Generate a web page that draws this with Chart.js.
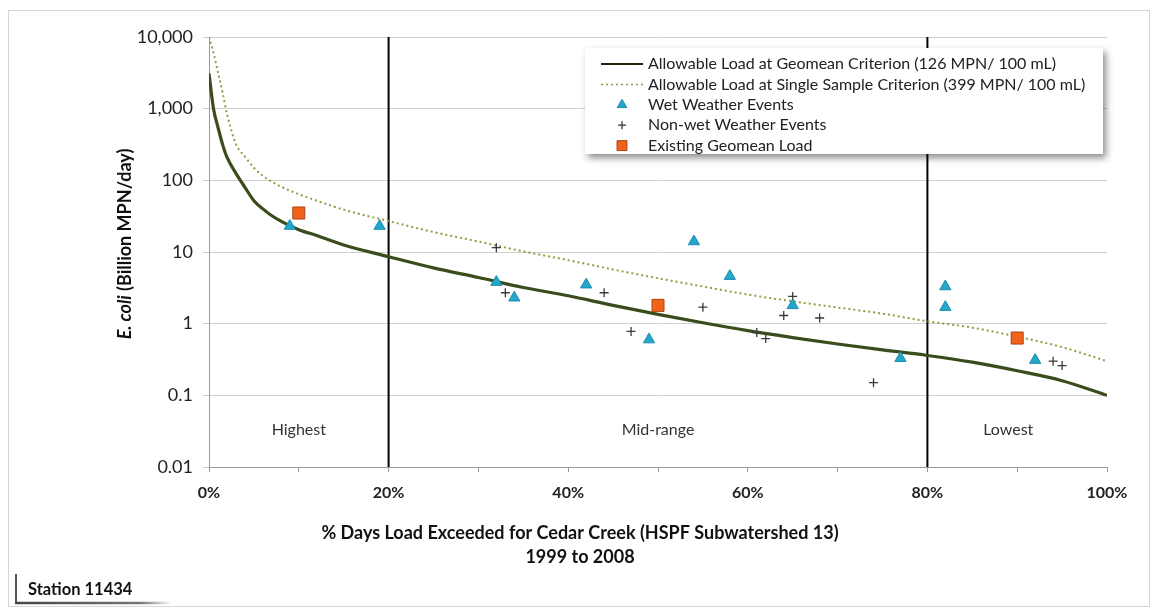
<!DOCTYPE html>
<html>
<head>
<meta charset="utf-8">
<script src="https://cdn.jsdelivr.net/npm/chart.js@4.4.1/dist/chart.umd.min.js"></script>
<style>
  html, body { margin: 0; padding: 0; background: #fff; }
</style>
</head>
<body>
<canvas id="loadChart" width="1154" height="609"></canvas>
<script>
// load duration curves (% of days load exceeded vs. allowable load)
const exceedPct = [0, 0.5, 1, 1.5, 2, 3, 4, 5, 6, 7, 8, 10, 12, 15, 20, 25, 30, 35, 40, 45, 50, 55, 60, 65, 70, 75, 80, 85, 90, 95, 100];
const geomeanLoad = [3100, 1000, 550, 320, 210, 125, 80, 52, 40, 32, 27, 20.5, 17, 12.5, 8.6, 6.0, 4.4, 3.2, 2.45, 1.8, 1.35, 1.03, 0.80, 0.64, 0.52, 0.43, 0.36, 0.29, 0.22, 0.16, 0.10];
const singleSampleLoad = [10000, 6000, 3200, 1700, 850, 320, 215, 150, 115, 96, 82, 64, 52, 39, 27, 19, 14, 10.2, 7.7, 5.7, 4.3, 3.3, 2.55, 2.05, 1.68, 1.38, 1.08, 0.88, 0.66, 0.47, 0.30];

// monitoring samples
const wetPct = [9, 19, 32, 34, 42, 49, 54, 58, 65, 77, 82, 82, 92];
const wetLoad = [23, 23, 3.8, 2.3, 3.5, 0.6, 14, 4.6, 1.8, 0.33, 3.3, 1.7, 0.31];
const dryPct = [32, 33, 44, 47, 55, 61, 62, 64, 65, 68, 74, 94, 95];
const dryLoad = [11.5, 2.7, 2.7, 0.78, 1.7, 0.75, 0.62, 1.3, 2.4, 1.2, 0.15, 0.30, 0.26];
const geoPct = [10, 50, 90];
const geoLoad = [35, 1.8, 0.63];

// flow zones
const zoneBounds = [20, 80];
const zoneNames = ['Highest', 'Mid-range', 'Lowest'];
const zoneCenters = [10, 50, 89];

// axis ticks
const xTicks = [0, 10, 20, 30, 40, 50, 60, 70, 80, 90, 100];
const yTicks = [0.01, 0.1, 1, 10, 100, 1000, 10000];
const yTickLabels = ['0.01', '0.1', '1', '10', '100', '1,000', '10,000'];

const pts = (xs, ys) => xs.map((x, i) => ({ x: x, y: ys[i] }));
const FONT = 'Lato, "Open Sans", sans-serif';

// frame, flow zone labels, axis titles, legend and station tag
const decor = {
  id: 'decor',
  beforeDraw(chart) {
    const c = chart.ctx;
    c.save();
    c.fillStyle = '#fff';
    c.fillRect(0, 0, chart.width, chart.height);
    c.strokeStyle = '#d6d6d6';
    c.lineWidth = 1;
    c.strokeRect(8.5, 10.5, 1141, 596);
    c.restore();
  },
  afterDraw(chart) {
    const c = chart.ctx;
    const xs = chart.scales.x, ys = chart.scales.y;
    c.save();

    // zone labels
    c.fillStyle = '#333';
    c.font = '16px ' + FONT;
    c.textAlign = 'center';
    c.textBaseline = 'middle';
    zoneNames.forEach((name, i) => {
      c.fillText(name, xs.getPixelForValue(zoneCenters[i]), ys.getPixelForValue(0.033));
    });

    // x title
    c.fillStyle = '#111';
    c.font = 'bold 18px ' + FONT;
    c.fillText('% Days Load Exceeded for Cedar Creek (HSPF Subwatershed 13)', 580, 533);
    c.fillText('1999 to 2008', 580, 557);

    // y title, italic species name
    c.save();
    c.translate(125, 244);
    c.rotate(-Math.PI / 2);
    const p1 = 'E. coli', p2 = ' (Billion MPN/day)';
    c.font = 'italic bold 18px ' + FONT;
    const w1 = c.measureText(p1).width;
    c.font = 'bold 18px ' + FONT;
    const w2 = c.measureText(p2).width;
    c.textAlign = 'left';
    c.font = 'italic bold 18px ' + FONT;
    c.fillText(p1, -(w1 + w2) / 2, 0);
    c.font = 'bold 18px ' + FONT;
    c.fillText(p2, -(w1 + w2) / 2 + w1, 0);
    c.restore();

    // legend box
    const lx = 585, ly = 48, lw = 518, lh = 106;
    c.save();
    c.shadowColor = 'rgba(0,0,0,0.45)';
    c.shadowBlur = 7;
    c.shadowOffsetX = 3;
    c.shadowOffsetY = 4;
    c.fillStyle = '#fff';
    c.fillRect(lx, ly, lw, lh);
    c.restore();

    const ds = chart.data.datasets;
    const order = [3, 4, 0, 1, 2];
    c.textAlign = 'left';
    c.textBaseline = 'middle';
    order.forEach((di, row) => {
      const d = ds[di];
      const y = 64 + row * 20.4;
      c.save();
      if (d.showLine) {
        c.strokeStyle = di === 3 ? '#1e2810' : d.borderColor;
        c.lineWidth = di === 3 ? 2 : 1.5;
        c.setLineDash(d.borderDash || []);
        c.beginPath();
        c.moveTo(601, y);
        c.lineTo(643, y);
        c.stroke();
      } else {
        c.fillStyle = d.backgroundColor || d.borderColor;
        c.strokeStyle = d.borderColor;
        c.lineWidth = d.borderWidth;
        Chart.helpers.drawPoint(c, {
          pointStyle: d.pointStyle,
          radius: d.pointStyle === 'rect' ? 7 : d.pointStyle === 'cross' ? 4 : 5.5,
          rotation: 0,
          borderWidth: d.borderWidth
        }, 622, y);
      }
      c.restore();
      c.fillStyle = '#222';
      c.font = '16px ' + FONT;
      c.fillText(d.label, 648, y);
    });

    // station tag
    c.strokeStyle = '#555';
    c.lineWidth = 2;
    c.beginPath();
    c.moveTo(16, 574);
    c.lineTo(16, 603);
    c.stroke();
    const g = c.createLinearGradient(15, 0, 172, 0);
    g.addColorStop(0, '#444');
    g.addColorStop(0.8, '#777');
    g.addColorStop(1, 'rgba(120,120,120,0)');
    c.strokeStyle = g;
    c.lineWidth = 2.5;
    c.beginPath();
    c.moveTo(15, 603);
    c.lineTo(172, 603);
    c.stroke();
    c.fillStyle = '#111';
    c.font = 'bold 16.5px ' + FONT;
    c.fillText('Station 11434', 28, 590);

    c.restore();
  }
};

const ctx = document.getElementById('loadChart').getContext('2d');
const chart = new Chart(ctx, {
  type: 'scatter',
  data: {
    datasets: [
      { label: 'Wet Weather Events', data: pts(wetPct, wetLoad), pointStyle: 'triangle', pointRadius: 6.5,
        backgroundColor: '#24a7cb', borderColor: '#1a8db0', borderWidth: 1, order: 1 },
      { label: 'Non-wet Weather Events', data: pts(dryPct, dryLoad), pointStyle: 'cross', pointRadius: 4.5,
        borderColor: '#3a3a3a', borderWidth: 1.3, order: 1 },
      { label: 'Existing Geomean Load', data: pts(geoPct, geoLoad), pointStyle: 'rect', pointRadius: 8.5,
        backgroundColor: '#f0641a', borderColor: '#a84410', borderWidth: 1, order: 0 },
      { label: 'Allowable Load at Geomean Criterion (126 MPN/ 100 mL)', data: pts(exceedPct, geomeanLoad),
        showLine: true, borderColor: '#3a4c1c', borderWidth: 3.2, pointRadius: 0,
        cubicInterpolationMode: 'monotone', order: 2 },
      { label: 'Allowable Load at Single Sample Criterion (399 MPN/ 100 mL)', data: pts(exceedPct, singleSampleLoad),
        showLine: true, borderColor: '#8e9c42', borderWidth: 2, borderDash: [2, 3], pointRadius: 0,
        cubicInterpolationMode: 'monotone', order: 2 },
      // zone boundaries
      { label: 'zone1', data: [{ x: zoneBounds[0], y: 0.01 }, { x: zoneBounds[0], y: 10000 }],
        showLine: true, borderColor: '#000', borderWidth: 2, pointRadius: 0, order: 3 },
      { label: 'zone2', data: [{ x: zoneBounds[1], y: 0.01 }, { x: zoneBounds[1], y: 10000 }],
        showLine: true, borderColor: '#000', borderWidth: 2, pointRadius: 0, order: 3 }
    ]
  },
  options: {
    responsive: false,
    animation: false,
    devicePixelRatio: 1,
    layout: { padding: { left: 0, top: 37, right: 47, bottom: 0 } },
    plugins: { legend: { display: false }, tooltip: { enabled: false } },
    scales: {
      x: {
        type: 'linear', min: 0, max: 100,
        afterFit: s => { s.height = 142; },
        afterBuildTicks: s => { s.ticks = xTicks.map(v => ({ value: v })); },
        ticks: {
          callback: v => (v % 20 === 0 ? v + '%' : ''),
          font: { family: FONT, size: 16, weight: 'bold' },
          color: '#222', padding: 11, maxRotation: 0, autoSkip: false
        },
        grid: { drawOnChartArea: false, tickLength: 5, color: '#999' },
        border: { color: '#999' }
      },
      y: {
        type: 'logarithmic', min: 0.01, max: 10000,
        afterFit: s => { s.width = 209; },
        afterBuildTicks: s => { s.ticks = yTicks.map(v => ({ value: v })); },
        ticks: {
          callback: (v, i) => yTickLabels[i],
          font: { family: FONT, size: 18 },
          color: '#222', padding: 10
        },
        grid: { color: '#cfcfcf', tickLength: 6 },
        border: { color: '#999' }
      }
    }
  },
  plugins: [decor]
});
</script>
</body>
</html>
